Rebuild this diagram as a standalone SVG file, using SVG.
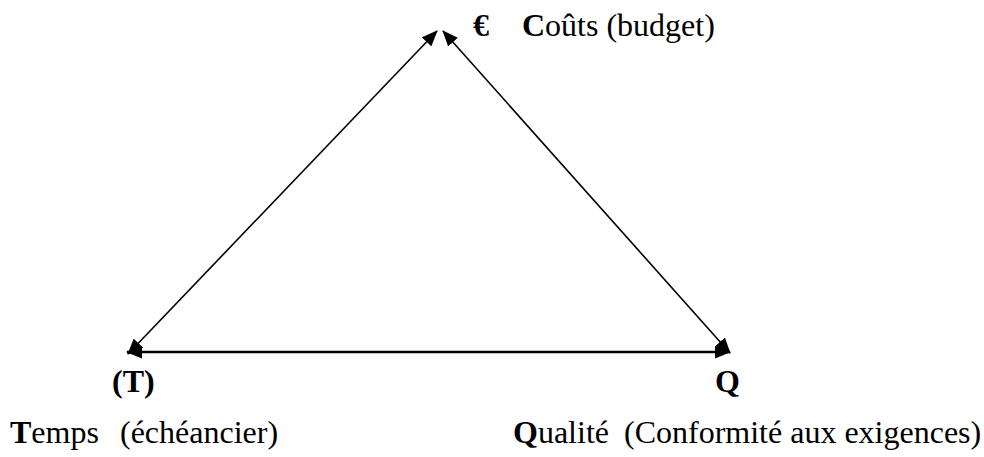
<svg xmlns="http://www.w3.org/2000/svg" width="984" height="457" viewBox="0 0 984 457">
<style>
text{font-family:"Liberation Serif","Times New Roman",serif;font-size:32px;fill:#000}
.b{font-weight:bold}
.edge{stroke:#000;fill:none}
</style>
<defs>
<marker id="ah" viewBox="0 0 16 13" refX="15" refY="6.5" markerWidth="16" markerHeight="13" markerUnits="userSpaceOnUse" orient="auto-start-reverse">
<path d="M0,0 L16,6.5 L0,13 Z" fill="#000"/>
</marker>
</defs>
<rect width="984" height="457" fill="#fff"/>
<g id="connectors">
<line class="edge" x1="128" y1="354" x2="437" y2="31" stroke-width="1.6" marker-start="url(#ah)" marker-end="url(#ah)"/>
<line class="edge" x1="443" y1="31" x2="730" y2="353" stroke-width="1.6" marker-start="url(#ah)" marker-end="url(#ah)"/>
<line class="edge" x1="127" y1="352" x2="730" y2="352" stroke-width="2.6" marker-start="url(#ah)" marker-end="url(#ah)"/>
</g>
<g id="node-couts">
<text x="473" y="36" class="b">€</text>
<text x="522" y="36"><tspan class="b">C</tspan>oûts (budget)</text>
</g>
<g id="node-temps">
<text x="112" y="392" class="b">(T)</text>
<text x="10" y="443"><tspan class="b">T</tspan>emps</text>
<text x="120" y="443">(échéancier)</text>
</g>
<g id="node-qualite">
<text x="715" y="392" class="b">Q</text>
<text x="513" y="443"><tspan class="b">Q</tspan>ualité <tspan x="624">(Conformité aux exigences)</tspan></text>
</g>
</svg>
